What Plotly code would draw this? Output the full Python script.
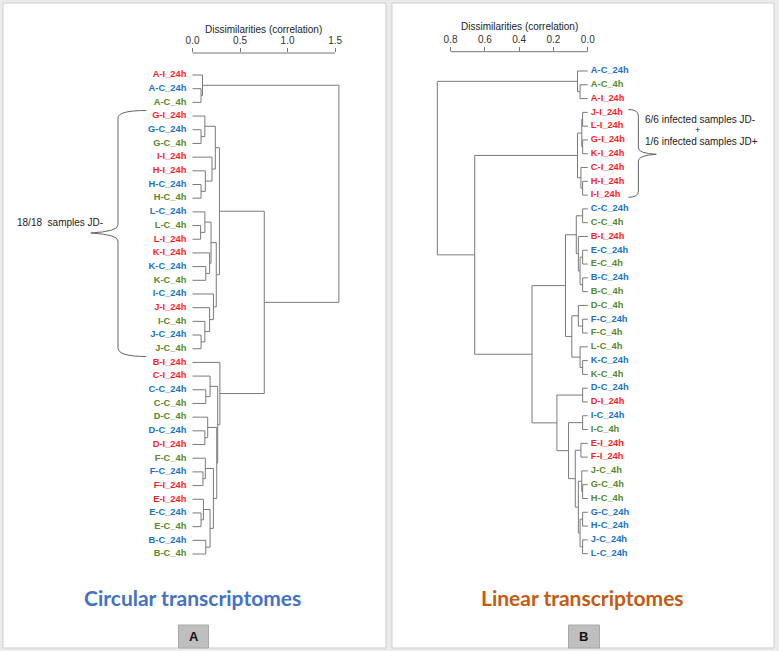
import plotly.graph_objects as go

W, H = 779, 651

# ---------------- data ----------------
left_leaves = ["A-I_24h", "A-C_24h", "A-C_4h", "G-I_24h", "G-C_24h", "G-C_4h",
               "I-I_24h", "H-I_24h", "H-C_24h", "H-C_4h", "L-C_24h", "L-C_4h",
               "L-I_24h", "K-I_24h", "K-C_24h", "K-C_4h", "I-C_24h", "J-I_24h",
               "I-C_4h", "J-C_24h", "J-C_4h", "B-I_24h", "C-I_24h", "C-C_24h",
               "C-C_4h", "D-C_4h", "D-C_24h", "D-I_24h", "F-C_4h", "F-C_24h",
               "F-I_24h", "E-I_24h", "E-C_24h", "E-C_4h", "B-C_24h", "B-C_4h"]

# (new node, child a, child b, dissimilarity)
left_merges = [
    ("a1", "A-C_24h", "A-C_4h", 0.09),
    ("a2", "A-I_24h", "a1", 0.105),
    ("g1", "G-C_24h", "G-C_4h", 0.09),
    ("g2", "G-I_24h", "g1", 0.13),
    ("h1", "H-C_24h", "H-C_4h", 0.09),
    ("h2", "H-I_24h", "h1", 0.135),
    ("h3", "I-I_24h", "h2", 0.205),
    ("gh", "g2", "h3", 0.24),
    ("l1", "L-C_4h", "L-I_24h", 0.085),
    ("l2", "L-C_24h", "l1", 0.13),
    ("k1", "K-C_24h", "K-C_4h", 0.14),
    ("k2", "K-I_24h", "k1", 0.18),
    ("lk", "l2", "k2", 0.195),
    ("j1", "J-C_24h", "J-C_4h", 0.09),
    ("j2", "I-C_4h", "j1", 0.13),
    ("j3", "J-I_24h", "j2", 0.18),
    ("j4", "I-C_24h", "j3", 0.22),
    ("lkj", "lk", "j4", 0.25),
    ("top", "gh", "lkj", 0.283),
    ("c1", "C-C_24h", "C-C_4h", 0.14),
    ("c2", "C-I_24h", "c1", 0.185),
    ("d1", "D-C_24h", "D-I_24h", 0.13),
    ("d2", "D-C_4h", "d1", 0.16),
    ("f1", "F-C_24h", "F-I_24h", 0.11),
    ("f2", "F-C_4h", "f1", 0.135),
    ("e1", "E-C_24h", "E-C_4h", 0.09),
    ("e2", "E-I_24h", "e1", 0.115),
    ("b1", "B-C_24h", "B-C_4h", 0.14),
    ("eb", "e2", "b1", 0.185),
    ("feb", "f2", "eb", 0.22),
    ("dfeb", "d2", "feb", 0.255),
    ("cdfeb", "c2", "dfeb", 0.265),
    ("bot", "B-I_24h", "cdfeb", 0.288),
    ("mid", "top", "bot", 0.755),
    ("root", "a2", "mid", 1.54),
]

right_leaves = ["A-C_24h", "A-C_4h", "A-I_24h", "J-I_24h", "L-I_24h", "G-I_24h",
                "K-I_24h", "C-I_24h", "H-I_24h", "I-I_24h", "C-C_24h", "C-C_4h",
                "B-I_24h", "E-C_24h", "E-C_4h", "B-C_24h", "B-C_4h", "D-C_4h",
                "F-C_24h", "F-C_4h", "L-C_4h", "K-C_24h", "K-C_4h", "D-C_24h",
                "D-I_24h", "I-C_24h", "I-C_4h", "E-I_24h", "F-I_24h", "J-C_4h",
                "G-C_4h", "H-C_4h", "G-C_24h", "H-C_24h", "J-C_24h", "L-C_24h"]

right_merges = [
    ("ra1", "A-C_4h", "A-I_24h", 0.045),
    ("ra2", "A-C_24h", "ra1", 0.06),
    ("ri1", "J-I_24h", "L-I_24h", 0.03),
    ("ri2", "G-I_24h", "K-I_24h", 0.03),
    ("ri3", "ri1", "ri2", 0.035),
    ("ri4", "H-I_24h", "I-I_24h", 0.03),
    ("ri5", "C-I_24h", "ri4", 0.04),
    ("ri6", "ri3", "ri5", 0.06),
    ("rc1", "C-C_24h", "C-C_4h", 0.03),
    ("re1", "E-C_24h", "E-C_4h", 0.03),
    ("rb1", "B-C_24h", "B-C_4h", 0.03),
    ("reb", "re1", "rb1", 0.045),
    ("rbi", "B-I_24h", "reb", 0.055),
    ("rcb", "rc1", "rbi", 0.067),
    ("rf1", "F-C_24h", "F-C_4h", 0.03),
    ("rd", "D-C_4h", "rf1", 0.055),
    ("rk1", "K-C_24h", "K-C_4h", 0.03),
    ("rl", "L-C_4h", "rk1", 0.045),
    ("rdl", "rd", "rl", 0.093),
    ("rcbdl", "rcb", "rdl", 0.13),
    ("rdd", "D-C_24h", "D-I_24h", 0.03),
    ("ric", "I-C_24h", "I-C_4h", 0.03),
    ("ref", "E-I_24h", "F-I_24h", 0.04),
    ("rgh4", "G-C_4h", "H-C_4h", 0.03),
    ("rj4", "J-C_4h", "rgh4", 0.035),
    ("rgh24", "G-C_24h", "H-C_24h", 0.03),
    ("rjl24", "J-C_24h", "L-C_24h", 0.03),
    ("r24", "rgh24", "rjl24", 0.045),
    ("r424", "rj4", "r24", 0.055),
    ("ref2", "ref", "r424", 0.073),
    ("ric2", "ric", "ref2", 0.112),
    ("rdd2", "rdd", "ric2", 0.18),
    ("rlow", "rcbdl", "rdd2", 0.325),
    ("rmid", "ri6", "rlow", 0.659),
    ("rroot", "ra2", "rmid", 0.877),
]

left_ticks = [0.0, 0.5, 1.0, 1.5]
right_ticks = [0.8, 0.6, 0.4, 0.2, 0.0]

# ---------------- styling ----------------
RED, BLUE, GREEN = "#ff1f1f", "#1a72c4", "#568a2e"
LINE = "#7a7a7a"
LABEL_FONT = "Liberation Sans, Arial, sans-serif"


def color_of(name):
    if "-I_" in name:
        return RED
    return BLUE if name.endswith("24h") else GREEN


def segments(leaves, merges):
    pos = {n: (0.0, i) for i, n in enumerate(leaves)}
    xs, ys = [], []
    for node, a, b, h in merges:
        ha, ya = pos[a]
        hb, yb = pos[b]
        xs += [ha, h, h, hb, None]
        ys += [ya, ya, yb, yb, None]
        pos[node] = (h, (ya + yb) / 2)
    return xs, ys


def px(x):
    return x / W


def py(y):
    return 1 - y / H


# axis geometry (pixels)
L0, LPU = 193.0, 95.3        # left: px of 0, px per unit
R0, RPU = 589.3, 172.0       # right: px of 0, px per unit
L_TOP, R_TOP = 53.0, 51.7
BOTTOM = 570.0
L_FIRST, L_STEP = 75.0, 13.686
R_FIRST, R_STEP = 71.0, 13.79

lxr = [-0.08, 1.6]
rxr = [0.93, -0.03]

fig = go.Figure()

# left dendrogram
lx, ly = segments(left_leaves, left_merges)
fig.add_trace(go.Scatter(x=lx, y=ly, mode="lines", line=dict(color=LINE, width=1),
                         xaxis="x", yaxis="y", hoverinfo="skip", showlegend=False))
fig.add_trace(go.Scatter(x=[-0.065] * len(left_leaves), y=list(range(len(left_leaves))),
                         mode="text", text=[f"<b>{n}</b>" for n in left_leaves],
                         textposition="middle left", cliponaxis=False,
                         textfont=dict(family=LABEL_FONT, size=9.3,
                                       color=[color_of(n) for n in left_leaves]),
                         xaxis="x", yaxis="y", hoverinfo="skip", showlegend=False))

# right dendrogram
rx, ry = segments(right_leaves, right_merges)
fig.add_trace(go.Scatter(x=rx, y=ry, mode="lines", line=dict(color=LINE, width=1),
                         xaxis="x2", yaxis="y2", hoverinfo="skip", showlegend=False))
fig.add_trace(go.Scatter(x=[-0.018] * len(right_leaves), y=list(range(len(right_leaves))),
                         mode="text", text=[f"<b>{n}</b>" for n in right_leaves],
                         textposition="middle right", cliponaxis=False,
                         textfont=dict(family=LABEL_FONT, size=9.3,
                                       color=[color_of(n) for n in right_leaves]),
                         xaxis="x2", yaxis="y2", hoverinfo="skip", showlegend=False))

axis_common = dict(side="top", ticks="outside", ticklen=4, tickcolor="#777",
                   showgrid=False, zeroline=False, showline=False,
                   tickfont=dict(family=LABEL_FONT, size=10, color="#333"))

fig.update_layout(
    width=W, height=H, margin=dict(l=0, r=0, t=0, b=0),
    paper_bgcolor="#ebebeb", plot_bgcolor="rgba(0,0,0,0)",
    xaxis=dict(domain=[px(L0 + lxr[0] * LPU), px(L0 + lxr[1] * LPU)], range=lxr,
               anchor="y", tickvals=left_ticks,
               ticktext=[f"{t:.1f}" for t in left_ticks], **axis_common),
    yaxis=dict(domain=[py(BOTTOM), py(L_TOP)],
               range=[(BOTTOM - L_FIRST) / L_STEP, (L_TOP - L_FIRST) / L_STEP],
               visible=False),
    xaxis2=dict(domain=[px(R0 - rxr[0] * RPU), px(R0 - rxr[1] * RPU)], range=rxr,
                anchor="y2", tickvals=right_ticks,
                ticktext=[f"{t:.1f}" for t in right_ticks], **axis_common),
    yaxis2=dict(domain=[py(BOTTOM), py(R_TOP)],
                range=[(BOTTOM - R_FIRST) / R_STEP, (R_TOP - R_FIRST) / R_STEP],
                visible=False),
)

shapes = []
# panels
shapes.append(dict(type="rect", xref="paper", yref="paper", layer="below",
                   x0=px(3), x1=px(387), y0=py(648), y1=py(3),
                   fillcolor="white", line=dict(color="#cdcdcd", width=1)))
shapes.append(dict(type="rect", xref="paper", yref="paper", layer="below",
                   x0=px(393), x1=px(776), y0=py(648), y1=py(3),
                   fillcolor="white", line=dict(color="#cdcdcd", width=1)))
# axis lines
shapes.append(dict(type="line", xref="x", yref="paper", x0=left_ticks[0], x1=left_ticks[-1],
                   y0=py(L_TOP), y1=py(L_TOP), line=dict(color="#777", width=1)))
shapes.append(dict(type="line", xref="x2", yref="paper", x0=right_ticks[0], x1=right_ticks[-1],
                   y0=py(R_TOP), y1=py(R_TOP), line=dict(color="#777", width=1)))


def path(pts):
    s = ""
    for cmd, coords in pts:
        s += cmd + " " + " ".join(f"{px(x):.5f},{py(y):.5f}" for x, y in coords) + " "
    return s.strip()


left_brace = path([("M", [(146.7, 110.5)]), ("Q", [(118.3, 110.5), (118.3, 118)]),
                   ("L", [(118.3, 225)]), ("Q", [(118.3, 231.5), (91, 233)]),
                   ("Q", [(118.3, 234.5), (118.3, 241)]), ("L", [(118.3, 348)]),
                   ("Q", [(118.3, 356.5), (146.7, 356.5)])])
right_brace = path([("M", [(630, 109.5)]), ("Q", [(640, 109.5), (640, 116)]),
                    ("L", [(640, 148)]), ("Q", [(640, 153.3), (658, 154.3)]),
                    ("Q", [(640, 155.3), (640, 161)]), ("L", [(640, 191)]),
                    ("Q", [(640, 197.3), (630, 197.3)])])
for p in (left_brace, right_brace):
    shapes.append(dict(type="path", xref="paper", yref="paper", path=p,
                       line=dict(color="#666", width=1)))

# A / B boxes
shapes.append(dict(type="rect", xref="paper", yref="paper", x0=px(179), x1=px(209),
                   y0=py(648), y1=py(625), fillcolor="#bfbfbf", line=dict(color="#a8a8a8", width=1)))
shapes.append(dict(type="rect", xref="paper", yref="paper", x0=px(570), x1=px(601),
                   y0=py(648), y1=py(625), fillcolor="#bfbfbf", line=dict(color="#a8a8a8", width=1)))
fig.update_layout(shapes=shapes)


def ann(text, x, y, size=10, color="#222", family=LABEL_FONT, bold=False):
    fig.add_annotation(text=f"<b>{text}</b>" if bold else text, xref="paper", yref="paper",
                       x=px(x), y=py(y), xanchor="center", yanchor="middle", showarrow=False,
                       font=dict(family=family, size=size, color=color))


ann("Dissimilarities (correlation)", 264.5, 29.5, size=10)
ann("Dissimilarities (correlation)", 520.5, 26.5, size=10)
ann("18/18  samples JD-", 60.5, 222.5, size=10)
ann("6/6 infected samples JD-", 702.0, 119.3, size=10)
ann("+", 699.0, 129.8, size=9)
ann("1/6 infected samples JD+", 703.5, 141.7, size=10)
ann("Circular transcriptomes", 192.5, 597.5, size=21, color="#4472C4", family="Lato", bold=True)
ann("Linear transcriptomes", 584.5, 597.5, size=21, color="#C55A11", family="Lato", bold=True)
ann("A", 194, 636.5, size=13, color="#111", bold=True)
ann("B", 585.5, 636.5, size=13, color="#111", bold=True)

fig.write_html("out.html", config={"displayModeBar": False},
               post_script="document.body.style.margin='0';document.body.style.padding='0';"
                           "document.body.style.overflow='hidden';")
